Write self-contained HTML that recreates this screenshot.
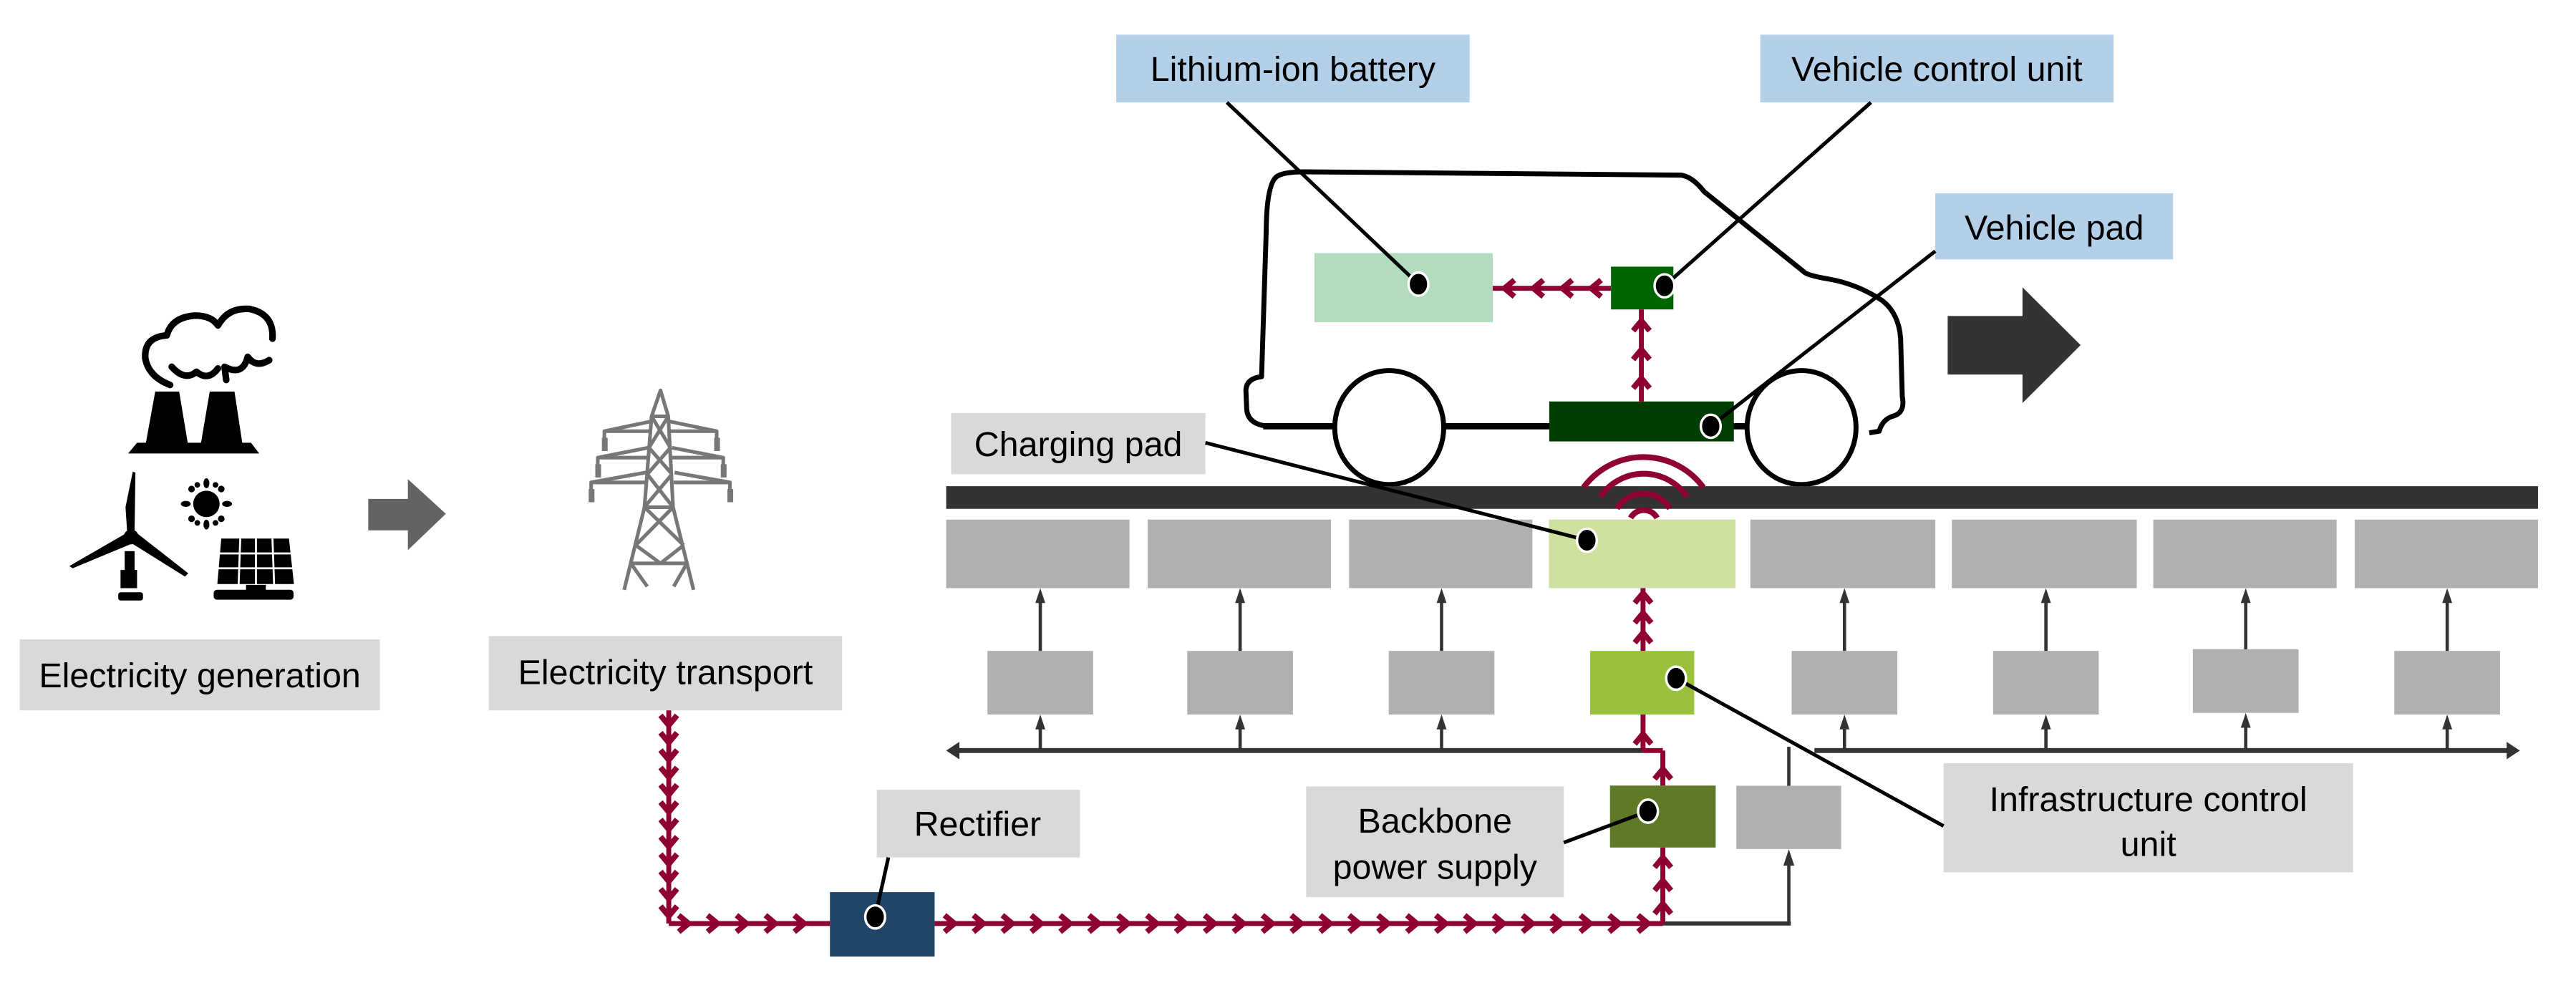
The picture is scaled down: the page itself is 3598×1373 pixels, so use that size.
<!DOCTYPE html>
<html><head><meta charset="utf-8"><style>
html,body{margin:0;padding:0;background:#fff;width:3598px;height:1373px;overflow:hidden}
svg{display:block}
text{font-family:"Liberation Sans",Arial,sans-serif;fill:#000}
</style></head><body>
<svg id="s" width="3598" height="1373" viewBox="0 0 1560 595" preserveAspectRatio="none" xmlns="http://www.w3.org/2000/svg">
<!-- labels -->
<rect x="12" y="387" width="218" height="43" fill="#d9d9d9"/>
<text x="121" y="416" font-size="21" text-anchor="middle">Electricity generation</text>
<rect x="296" y="385" width="214" height="45" fill="#d9d9d9"/>
<text x="403" y="414" font-size="21" text-anchor="middle">Electricity transport</text>
<rect x="676" y="21" width="214" height="41" fill="#b4d0e9"/>
<text x="783" y="49" font-size="21" text-anchor="middle">Lithium-ion battery</text>
<rect x="1066" y="21" width="214" height="41" fill="#b4d0e9"/>
<text x="1173" y="49" font-size="21" text-anchor="middle">Vehicle control unit</text>
<rect x="1172" y="117" width="144" height="40" fill="#b4d0e9"/>
<text x="1244" y="145" font-size="21" text-anchor="middle">Vehicle pad</text>
<rect x="576" y="250" width="154" height="37" fill="#d9d9d9"/>
<text x="653" y="276" font-size="21" text-anchor="middle">Charging pad</text>
<rect x="531" y="478" width="123" height="41" fill="#d9d9d9"/>
<text x="592" y="506" font-size="21" text-anchor="middle">Rectifier</text>
<rect x="791" y="476" width="156" height="67" fill="#d9d9d9"/>
<text x="869" y="504" font-size="21" text-anchor="middle">Backbone</text>
<text x="869" y="532" font-size="21" text-anchor="middle">power supply</text>
<rect x="1177" y="462" width="248" height="66" fill="#d9d9d9"/>
<text x="1301" y="491" font-size="21" text-anchor="middle">Infrastructure control</text>
<text x="1301" y="518" font-size="21" text-anchor="middle">unit</text>

<!-- gray arrow -->
<polygon points="223,302 247,302 247,290 270,311 247,333 247,321 223,321" fill="#636363"/>
<!-- dark arrow -->
<polygon points="1179.5,191.3 1224.8,191.3 1224.8,173.9 1260,208.9 1224.8,244 1224.8,226.7 1179.5,226.7" fill="#333"/>

<!-- factory -->
<g fill="#000">
<polygon points="88,270 94,237 108.5,237 114,270"/>
<polygon points="121.4,270 127,237 142,237 147,270"/>
<polygon points="77.6,274.5 157,274.5 152,268 83,268"/>
</g>
<g fill="none" stroke="#000" stroke-width="4" stroke-linejoin="round" stroke-linecap="round">
<path d="M103,233 Q90,228 88,217 Q87,204 101,203 Q104,192 118,191 Q128,191 132,197 Q138,186 151,187 Q166,190 165,205"/>
<path d="M104,222 Q112,231 119,225 Q126,231 132,223"/>
<path d="M137,230 L136,222 Q147,228 150,216 Q155,223 163,218"/>
</g>
<!-- wind turbine -->
<g fill="#000">
<polygon points="80.4,285.5 82,286 81.5,322 77,322 76,307"/>
<polygon points="76,323 42,342.6 44,344 80,329"/>
<polygon points="82,322 114,347 112,349 80,329"/>
<circle cx="79.4" cy="325" r="4.5"/>
<rect x="75.5" y="333.6" width="6" height="14"/>
<rect x="73" y="345" width="10" height="11"/>
<rect x="71.6" y="358.5" width="15" height="5" rx="1.5"/>
<!-- sun -->
<circle cx="125" cy="305" r="8"/>
<g>
<ellipse cx="125" cy="292.5" rx="1.8" ry="3"/><ellipse cx="125" cy="317.5" rx="1.8" ry="3"/>
<ellipse cx="112.5" cy="305" rx="3" ry="1.8"/><ellipse cx="137.5" cy="305" rx="3" ry="1.8"/>
<circle cx="116" cy="296" r="2"/><circle cx="134" cy="296" r="2"/>
<circle cx="116" cy="314" r="2"/><circle cx="134" cy="314" r="2"/>
<circle cx="119.5" cy="293.5" r="1.7"/><circle cx="130.5" cy="293.5" r="1.7"/>
<circle cx="119.5" cy="316.5" r="1.7"/><circle cx="130.5" cy="316.5" r="1.7"/>
</g>
<!-- solar panel -->
<polygon points="134,326 175,326 178,353.5 131.6,353.5"/>
<rect x="149" y="354" width="12" height="4"/>
<rect x="129.4" y="357" width="48.4" height="6" rx="2"/>
<g stroke="#fff" stroke-width="1.2"><line x1="132" y1="335" x2="177" y2="335"/><line x1="131" y1="344" x2="178" y2="344"/><line x1="145.5" y1="326" x2="144.5" y2="354"/><line x1="155" y1="326" x2="155" y2="354"/><line x1="165" y1="326" x2="166" y2="354"/></g>
</g>
<!-- tower -->
<g stroke="#777" stroke-width="2.2" fill="none" stroke-linejoin="round">
<polyline points="378,357 390.3,307 394.6,252 400,236.3 404.7,252 407.6,307 420,357"/>
<line x1="394.6" y1="252" x2="404.7" y2="252"/>
<line x1="390.3" y1="307" x2="407.6" y2="307"/>
<line x1="382" y1="341" x2="416" y2="341"/>
<line x1="394.6" y1="252" x2="406" y2="271"/><line x1="404.7" y1="252" x2="393" y2="271"/>
<line x1="393" y1="271" x2="407" y2="287"/><line x1="406" y1="271" x2="392" y2="287"/>
<line x1="392" y1="287" x2="407.6" y2="307"/><line x1="407" y1="287" x2="390.3" y2="307"/>
<line x1="390.3" y1="307" x2="414" y2="330"/><line x1="407.6" y1="307" x2="385" y2="330"/>
<line x1="385" y1="330" x2="400" y2="341"/><line x1="414" y1="330" x2="400" y2="341"/>
<line x1="382" y1="341" x2="392" y2="355"/><line x1="416" y1="341" x2="408" y2="355"/>
<polyline points="394.6,255 366,261 366,266"/><line x1="366" y1="261" x2="394" y2="261"/>
<polyline points="405,255 434,261 434,266"/><line x1="434" y1="261" x2="406" y2="261"/>
<polyline points="392.5,271 362,277 362,282"/><line x1="362" y1="277" x2="392" y2="277"/>
<polyline points="407,271 438,277 438,282"/><line x1="438" y1="277" x2="407" y2="277"/>
<polyline points="391,286 358,292 358,297"/><line x1="358" y1="292" x2="391" y2="292"/>
<polyline points="408.5,286 442,292 442,297"/><line x1="442" y1="292" x2="408" y2="292"/>
</g>
<g fill="#777">
<rect x="364.5" y="265" width="3.5" height="8"/><rect x="432.5" y="265" width="3.5" height="8"/>
<rect x="360.5" y="281" width="3.5" height="8"/><rect x="436.5" y="281" width="3.5" height="8"/>
<rect x="356.5" y="296" width="3.5" height="8"/><rect x="440.5" y="296" width="3.5" height="8"/>
</g>

<!-- car -->
<path d="M812,258 L768,258 Q756,257 755,248 L754.5,236 Q755,229 764,228 L766.8,140 Q767,112 773,107 Q777,104 790,104 L1018,106 Q1025,107 1032,116 L1093,165 Q1096,167 1108,169 Q1125,172 1140,182 Q1150,190 1151,205 L1152,240 Q1154,250 1146,252 Q1140,254 1138,261 L1132,262" fill="none" stroke="#000" stroke-width="3" stroke-linejoin="round"/>
<line x1="765" y1="258" x2="1060" y2="258" stroke="#000" stroke-width="3.8"/>
<ellipse cx="841.3" cy="258.8" rx="33" ry="34.5" fill="#fff" stroke="#000" stroke-width="3"/>
<ellipse cx="1091" cy="258.8" rx="33" ry="34.5" fill="#fff" stroke="#000" stroke-width="3"/>
<rect x="796" y="153.2" width="108" height="41.8" fill="#b3dbbd"/>
<rect x="975.6" y="161.4" width="37.8" height="25.9" fill="#006400"/>
<rect x="938.2" y="243" width="111.8" height="24.2" fill="#003d00"/>

<!-- road -->
<rect x="573" y="294.3" width="964" height="13.7" fill="#333"/>
<g fill="#b0b0b0">
<rect x="573" y="314.5" width="111" height="41.5"/><rect x="695" y="314.5" width="111" height="41.5"/>
<rect x="817" y="314.5" width="111" height="41.5"/>
<rect x="1060" y="314.5" width="112" height="41.5"/><rect x="1182" y="314.5" width="112" height="41.5"/>
<rect x="1304" y="314.5" width="111" height="41.5"/><rect x="1426" y="314.5" width="111" height="41.5"/>
<rect x="598" y="394" width="64" height="38.5"/><rect x="719" y="394" width="64" height="38.5"/>
<rect x="841" y="394" width="64" height="38.5"/><rect x="1085" y="394" width="64" height="38.5"/>
<rect x="1207" y="394" width="64" height="38.5"/><rect x="1328" y="393" width="64" height="38.5"/>
<rect x="1450" y="394" width="64" height="38.5"/>
<rect x="1051.5" y="475.6" width="63.5" height="38.3"/>
</g>
<rect x="938" y="314.5" width="113" height="41.5" fill="#cfe1a0"/>
<rect x="963" y="394" width="63" height="38.5" fill="#99c13c"/>
<rect x="975" y="475.5" width="64" height="37.5" fill="#5f7a27"/>
<rect x="502.6" y="540" width="63.4" height="39" fill="#1f4567"/>

<!-- dark control arrows -->
<g stroke="#333" stroke-width="2" fill="#333">
<line x1="578" y1="454.3" x2="995" y2="454.3" stroke-width="3"/>
<line x1="1098.8" y1="454.3" x2="1520" y2="454.3" stroke-width="3"/>
<polygon points="573,454.3 581,449 581,459.6" stroke="none"/><polygon points="1526,454.3 1518,449 1518,459.6" stroke="none"/>
<line x1="1083.3" y1="452" x2="1083.3" y2="475.6"/>
<line x1="1007" y1="559" x2="1084.5" y2="559" stroke-width="2.5"/>
<line x1="1083.3" y1="559" x2="1083.3" y2="520"/><polygon points="1083.3,514 1080,524 1086.6,524" stroke="none"/>
</g>
<g id="up" stroke="#333" stroke-width="2" fill="#333"></g>

<!-- wireless arcs -->
<g fill="none" stroke="#8f0033" stroke-width="3.5">
<path d="M959,295 A45,45 0 0 1 1031.5,295"/>
<path d="M969.2,300.6 A31.7,31.7 0 0 1 1021.6,300.6"/>
<path d="M979.2,307.8 A18.7,18.7 0 0 1 1011.2,307.8"/>
<path d="M987.5,313.5 A9.1,9.1 0 0 1 1003.5,313.5"/>
</g>

<g id="red" stroke="#8f0033" fill="none" stroke-width="3"></g>

<!-- leader lines -->
<g stroke="#000" stroke-width="2.2">
<line x1="743" y1="62" x2="859" y2="172"/>
<line x1="1133" y1="62" x2="1008" y2="173"/>
<line x1="1172" y1="152" x2="1036" y2="258"/>
<line x1="730" y1="268" x2="961" y2="327"/>
<line x1="1015" y1="410.5" x2="1177" y2="500"/>
<line x1="998" y1="491" x2="947" y2="510"/>
<line x1="530" y1="555" x2="538" y2="519"/>
</g>
<g fill="#000" stroke="#fff" stroke-width="1.5">
<ellipse cx="859" cy="172" rx="6" ry="7"/>
<ellipse cx="1008" cy="173" rx="6" ry="7"/>
<ellipse cx="1036" cy="258" rx="6" ry="7"/>
<ellipse cx="961" cy="327" rx="6" ry="7"/>
<ellipse cx="1015" cy="410.5" rx="6" ry="7"/>
<ellipse cx="998" cy="491" rx="6" ry="7"/>
<ellipse cx="530" cy="555" rx="6" ry="7"/>
</g>
</svg>
<script>
var NS="http://www.w3.org/2000/svg";
var red=document.getElementById("red"),up=document.getElementById("up");
function el(p,t,a){var e=document.createElementNS(NS,t);for(var k in a)e.setAttribute(k,a[k]);p.appendChild(e);return e;}
function chev(x1,y1,x2,y2,sp,off){
 el(red,"line",{x1:x1,y1:y1,x2:x2,y2:y2});
 var dx=x2-x1,dy=y2-y1,L=Math.hypot(dx,dy),ux=dx/L,uy=dy/L,px=-uy,py=ux;
 for(var d=(off||sp*0.6);d<L-1;d+=sp){
  var cx=x1+ux*d,cy=y1+uy*d;
  var bx=cx-ux*6,by=cy-uy*6;
  el(red,"polyline",{points:(bx+px*5)+","+(by+py*5)+" "+cx+","+cy+" "+(bx-px*5)+","+(by-py*5),"stroke-width":3.4,"stroke-linejoin":"miter"});
 }
}
chev(405,430,405,559,10.5,9);
chev(405,559,502.6,559,17.5,12);
chev(566,559,1007,559,17.5,12);
chev(1007,559,1007,513,14,12);
chev(1007,475.5,1007,454.3,12,10);
el(red,"line",{x1:1007,y1:454.3,x2:995,y2:454.3});
chev(995,454.3,995,432.5,12,10);
chev(995,394,995,356,12,11);
chev(994,243,994,187.3,17.4,14);
chev(975.6,174.5,904,174.5,17.5,12);
var xs=[630,751,873,1117,1239,1360,1482];
xs.forEach(function(x){
 var t=(x==1360)?393:394,b=(x==1360)?431.5:432.5;
 el(up,"line",{x1:x,y1:454,x2:x,y2:b+6});el(up,"polygon",{points:x+","+b+" "+(x-3)+","+(b+9)+" "+(x+3)+","+(b+9),stroke:"none"});
 el(up,"line",{x1:x,y1:t,x2:x,y2:362});el(up,"polygon",{points:x+",356 "+(x-3)+",365 "+(x+3)+",365",stroke:"none"});
});
</script>
</body></html>
